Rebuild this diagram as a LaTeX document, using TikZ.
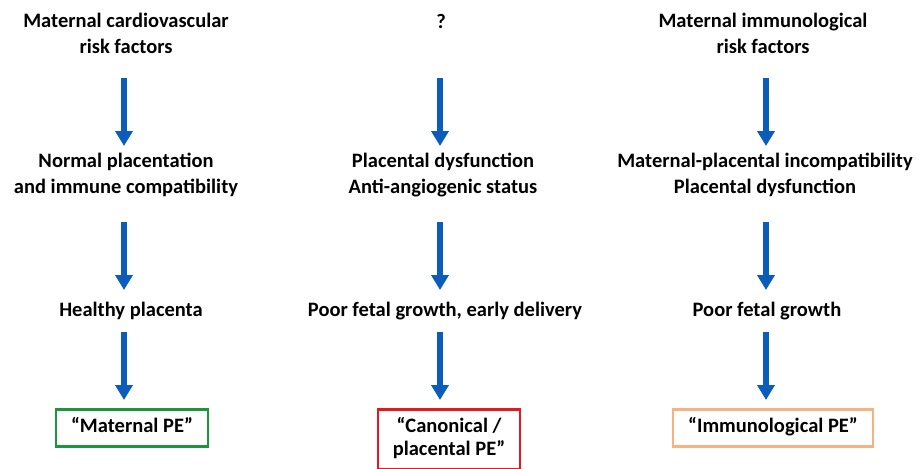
\documentclass[tikz,border=0pt]{standalone}
\usepackage{fontspec}
\setmainfont{Carlito}
\usetikzlibrary{arrows.meta}
\definecolor{flowblue}{RGB}{12,92,188}
\definecolor{pegreen}{RGB}{28,150,58}
\definecolor{pered}{RGB}{228,24,30}
\definecolor{peorange}{RGB}{246,178,128}
\begin{document}
\begin{tikzpicture}[x=1pt, y=1pt,
    every node/.style = {font=\bfseries\fontsize{20.5}{25.5}\selectfont,
      align=center, inner sep=0pt, anchor=base},
    flow/.style = {draw=flowblue, line width=5.5pt,
      -{Triangle[width=17pt, length=15pt]}},
    pebox/.style = {draw=#1, line width=2.6pt, anchor=north,
      inner xsep=15pt, inner ysep=10pt, text height=13.5pt, text depth=3.5pt,
      font=\bfseries\fontsize{20.5}{23}\selectfont}]
  \useasboundingbox (0,0) rectangle (922,-469);
  % first row: risk factors
  \node (cvrisk) at (126,-53) {Maternal cardiovascular\\risk factors};
  \node (unknown) at (441,-28) {?};
  \node (imrisk) at (763,-53) {Maternal immunological\\risk factors};
  % second row: placentation
  \node (normal) at (126,-193) {Normal placentation\\and immune compatibility};
  \node (dysfun) at (443,-193) {Placental dysfunction\\Anti-angiogenic status};
  \node (incompat) at (765,-193) {Maternal-placental incompatibility\\Placental dysfunction};
  % third row: outcome
  \node (healthy) at (131,-316) {Healthy placenta};
  \node (poorearly) at (445,-316) {Poor fetal growth, early delivery};
  \node (poor) at (767,-316) {Poor fetal growth};
  % fourth row: type of PE
  \node[pebox=pegreen] (maternal) at (132,-408) {“Maternal PE”};
  \node[pebox=pered, text height=36.5pt] (canonical) at (449,-408) {“Canonical /\\placental PE”};
  \node[pebox=peorange] (immuno) at (773,-408) {“Immunological PE”};
  % arrows
  \draw[flow] ([xshift=-2pt,yshift=-25pt]cvrisk.base) -- ([xshift=-2pt,yshift=47pt]normal.base);
  \draw[flow] ([xshift=-1pt,yshift=-50pt]unknown.base) -- ([xshift=-1pt,yshift=47pt]unknown.base |- dysfun.base);
  \draw[flow] ([xshift=3pt,yshift=-25pt]imrisk.base) -- ([xshift=1pt,yshift=47pt]incompat.base);
  \draw[flow] ([xshift=-2pt,yshift=-29pt]normal.base) -- ([xshift=-2pt,yshift=26pt]normal.base |- healthy.base);
  \draw[flow] ([xshift=-3pt,yshift=-29pt]dysfun.base) -- ([xshift=-3pt,yshift=26pt]dysfun.base |- poorearly.base);
  \draw[flow] ([xshift=1pt,yshift=-29pt]incompat.base) -- ([xshift=1pt,yshift=26pt]incompat.base |- poor.base);
  \draw[flow] ([xshift=-7pt,yshift=-16pt]healthy.base) -- ([xshift=-7pt,yshift=8pt]maternal.north -| healthy.base);
  \draw[flow] ([xshift=-5pt,yshift=-16pt]poorearly.base) -- ([xshift=-5pt,yshift=8pt]canonical.north -| poorearly.base);
  \draw[flow] ([xshift=-1pt,yshift=-16pt]poor.base) -- ([xshift=-1pt,yshift=8pt]immuno.north -| poor.base);
\end{tikzpicture}
\end{document}
